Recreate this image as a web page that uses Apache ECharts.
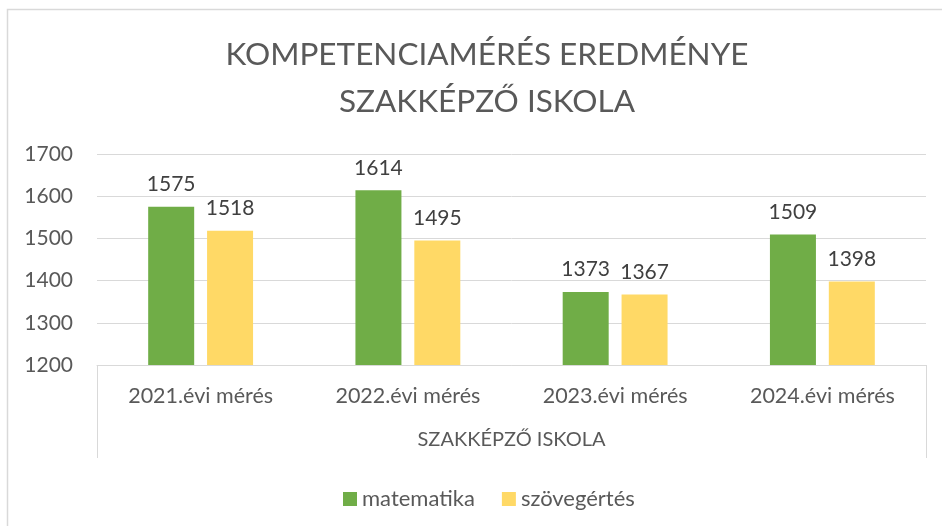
<!DOCTYPE html>
<html><head><meta charset="utf-8">
<script src="https://cdn.jsdelivr.net/npm/echarts@6/dist/echarts.min.js"></script>
<style>html,body{margin:0;padding:0;background:#fff}#c{width:942px;height:526px}</style>
</head><body><div id="c"></div>
<script>
const titleText = 'KOMPETENCIAMÉRÉS EREDMÉNYE\nSZAKKÉPZŐ ISKOLA';
const categories = ['2021.évi mérés','2022.évi mérés','2023.évi mérés','2024.évi mérés'];
const groupLabel = ['SZAKKÉPZŐ ISKOLA'];
const seriesNames = ['matematika','szövegértés'];
const matematika = [1575,1614,1373,1509];
const szovegertes = [1518,1495,1367,1398];
const yMin = 1200, yMax = 1700, yStep = 100;

const F = 'Lato';
const chart = echarts.init(document.getElementById('c'), null, {renderer:'canvas'});
const lbl = {show:true, position:'top', distance:12, color:'#404040', fontFamily:F, fontSize:21};
chart.setOption({
  animation:false,
  color:['#70AD47','#FFD966'],
  title:{text:titleText, left:482, top:26, textAlign:'center',
    textStyle:{fontFamily:F, fontSize:31.5, fontWeight:'normal', color:'#595959', lineHeight:47}},
  grid:{left:97, right:16, top:154, bottom:161},
  legend:{data:seriesNames, left:338, top:483, icon:'rect', itemWidth:14, itemHeight:14, itemGap:27,
    textStyle:{fontFamily:F, fontSize:22, color:'#595959'}},
  xAxis:[
    {type:'category', data:categories, position:'bottom',
      axisLine:{show:true, lineStyle:{color:'#d9d9d9', width:1}}, axisTick:{show:false},
      axisLabel:{margin:20, fontFamily:F, fontSize:21.5, color:'#595959'}},
    {type:'category', data:groupLabel, position:'bottom',
      axisLine:{show:false}, axisTick:{show:true, length:93, lineStyle:{color:'#d9d9d9'}},
      axisLabel:{margin:65, fontFamily:F, fontSize:20, color:'#595959'}}
  ],
  yAxis:{type:'value', min:yMin, max:yMax, interval:yStep,
    axisLine:{show:false}, axisTick:{show:false},
    splitLine:{lineStyle:{color:'#d9d9d9', width:1}},
    axisLabel:{margin:24, fontFamily:F, fontSize:21, color:'#595959', formatter:v => String(v)}},
  series:[
    {name:seriesNames[0], type:'bar', data:matematika, barWidth:46, barGap:'28%', label:lbl, xAxisIndex:0},
    {name:seriesNames[1], type:'bar', data:szovegertes, barWidth:46, barGap:'28%', label:lbl, xAxisIndex:0}
  ],
  graphic:[{type:'rect', shape:{x:7.5, y:9.5, width:1000, height:1000}, style:{fill:'none', stroke:'#d9d9d9', lineWidth:1.5}, silent:true}]
});
</script></body></html>
